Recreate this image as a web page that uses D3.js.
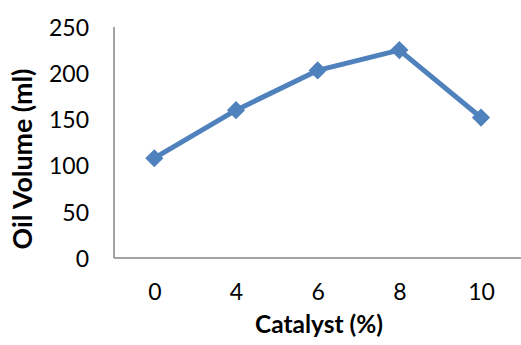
<!DOCTYPE html>
<html><head><meta charset="utf-8">
<script src="https://cdn.jsdelivr.net/npm/d3@7"></script>
<style>body{margin:0;background:#fff}svg{display:block}</style>
</head><body>
<script>
const categories = ["0","4","6","8","10"];
const oilVolume = [108, 160, 203, 225, 152];
const yTicks = [0, 50, 100, 150, 200, 250];

const W = 521, H = 345;
const svg = d3.select("body").append("svg").attr("width", W).attr("height", H);
const font = "Lato, 'Open Sans', sans-serif";

const x = d3.scalePoint().domain(categories).range([154.3, 481]);
const y = d3.scaleLinear().domain([0, 250]).range([258, 27]);

// axes lines
svg.append("line").attr("x1", 114).attr("x2", 521).attr("y1", y(0)).attr("y2", y(0))
  .attr("stroke", "#868686").attr("stroke-width", 1.5);
svg.append("line").attr("x1", 114).attr("x2", 114).attr("y1", y(250)).attr("y2", y(0))
  .attr("stroke", "#868686").attr("stroke-width", 1.5);

// y tick labels
const yAxis = d3.axisLeft(y).tickValues(yTicks).tickSize(0).tickPadding(0);
const gy = svg.append("g").attr("transform", "translate(89,0)").call(yAxis);
gy.select(".domain").remove();
gy.selectAll("text").attr("font-family", font).attr("font-size", 23).attr("fill", "#000").attr("dy", "0.36em");

// x tick labels
const xAxis = d3.axisBottom(x).tickSize(0).tickPadding(0);
const gx = svg.append("g").attr("transform", "translate(0,284)").call(xAxis);
gx.select(".domain").remove();
gx.selectAll("text").attr("font-family", font).attr("font-size", 23).attr("fill", "#000").attr("dy", "0.71em");

// line
const line = d3.line().x((d, i) => x(categories[i])).y(d => y(d));
svg.append("path").datum(oilVolume).attr("d", line)
  .attr("fill", "none").attr("stroke", "#4F81BD").attr("stroke-width", 5).attr("stroke-linejoin", "round");

// markers
svg.selectAll(".m").data(oilVolume).enter().append("path")
  .attr("class", "m")
  .attr("d", d3.symbol().type(d3.symbolDiamond2).size(210))
  .attr("transform", (d, i) => `translate(${x(categories[i])},${y(d)})`)
  .attr("fill", "#4F81BD");

// titles
function fitText(sel, target) {
  const w = sel.node().getComputedTextLength();
  const fs = parseFloat(sel.attr("font-size"));
  sel.attr("font-size", fs * target / w);
}
const xt = svg.append("text").attr("x", 319).attr("y", 333).attr("text-anchor", "middle")
  .attr("font-family", font).attr("font-weight", "bold").attr("font-size", 22).text("Catalyst (%)");
fitText(xt, 128);
const yt = svg.append("text").attr("transform", "translate(32,159) rotate(-90)").attr("text-anchor", "middle")
  .attr("font-family", font).attr("font-weight", "bold").attr("font-size", 22).text("Oil Volume (ml)");
fitText(yt, 181);
</script>
</body></html>
